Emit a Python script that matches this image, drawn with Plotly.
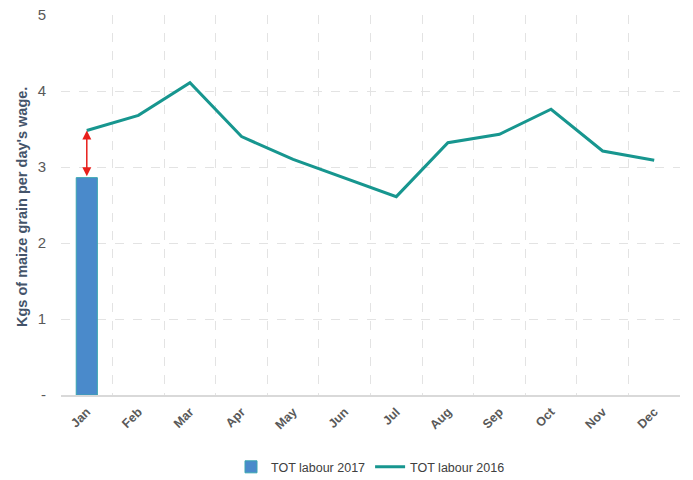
import plotly.graph_objects as go

months = ["Jan", "Feb", "Mar", "Apr", "May", "Jun", "Jul", "Aug", "Sep", "Oct", "Nov", "Dec"]
labour_2016 = [3.48, 3.68, 4.11, 3.40, 3.10, 2.86, 2.61, 3.32, 3.43, 3.76, 3.21, 3.09]
bar_months = ["Jan"]
labour_2017 = [2.86]

font_family = "Liberation Sans Narrow, Liberation Sans, Arial, sans-serif"
tick_color = "#595959"
grid_color = "#e3e3e3"

W, H = 693, 480
ML, MR, MT, MB = 61, 13, 15, 85

fig = go.Figure()
fig.add_trace(go.Bar(
    x=bar_months, y=labour_2017, name="TOT labour 2017",
    marker=dict(color="#4a8acb", line=dict(color="#3aa6b0", width=1)),
    width=0.41,
))
fig.add_trace(go.Scatter(
    x=months, y=labour_2016, name="TOT labour 2016", mode="lines",
    line=dict(color="#17968f", width=3),
))

# double-headed red arrow between bar top and line at Jan
fig.add_annotation(
    x=months[0], y=labour_2016[0], ax=bar_months[0], ay=labour_2017[0],
    xref="x", yref="y", axref="x", ayref="y",
    showarrow=True, arrowhead=2, startarrowhead=2, arrowside="end+start",
    arrowcolor="#e8201c", arrowwidth=1.5, arrowsize=1.2, startarrowsize=1.2, text="",
)
# y-axis title (positioned in pixels converted to paper coords)
fig.add_annotation(
    xref="paper", yref="paper",
    x=(22 - ML) / (W - ML - MR), y=(H - MB - 207) / (H - MT - MB),
    xanchor="center", yanchor="middle",
    text="<b>Kgs of maize grain per day's wage.</b>",
    showarrow=False, textangle=-90, font=dict(size=14.5, color="#44546a", family=font_family),
)

fig.update_layout(
    width=W, height=H,
    margin=dict(l=ML, r=MR, t=MT, b=MB, autoexpand=False),
    paper_bgcolor="white", plot_bgcolor="white",
    font=dict(family=font_family, color=tick_color, size=12),
    showlegend=True,
    legend=dict(orientation="h", x=0.5, xanchor="center", y=-0.19, yanchor="middle",
                font=dict(size=12.5, color="#404040")),
)

fig.update_xaxes(
    type="category", categoryorder="array", categoryarray=months,
    tickson="boundaries", showgrid=True, gridcolor=grid_color, griddash="dash", gridwidth=1,
    showline=True, linecolor="#d9d9d9", linewidth=1.5, ticks="", tickangle=-45,
    ticklabelstandoff=3,
    tickfont=dict(size=12.5, color=tick_color, weight="bold"),
    range=[-0.5, 11.5], automargin=False,
)
fig.update_yaxes(
    range=[0, 5], tickvals=[0, 1, 2, 3, 4, 5], ticktext=["-", "1", "2", "3", "4", "5"],
    showgrid=True, gridcolor=grid_color, griddash="dash", gridwidth=1,
    zeroline=False, showline=False, ticks="", ticklabelstandoff=14,
    tickfont=dict(size=15, color=tick_color), automargin=False,
)

fig.write_html("out.html", config={"displayModeBar": False},
               post_script="document.body.style.margin='0';")
